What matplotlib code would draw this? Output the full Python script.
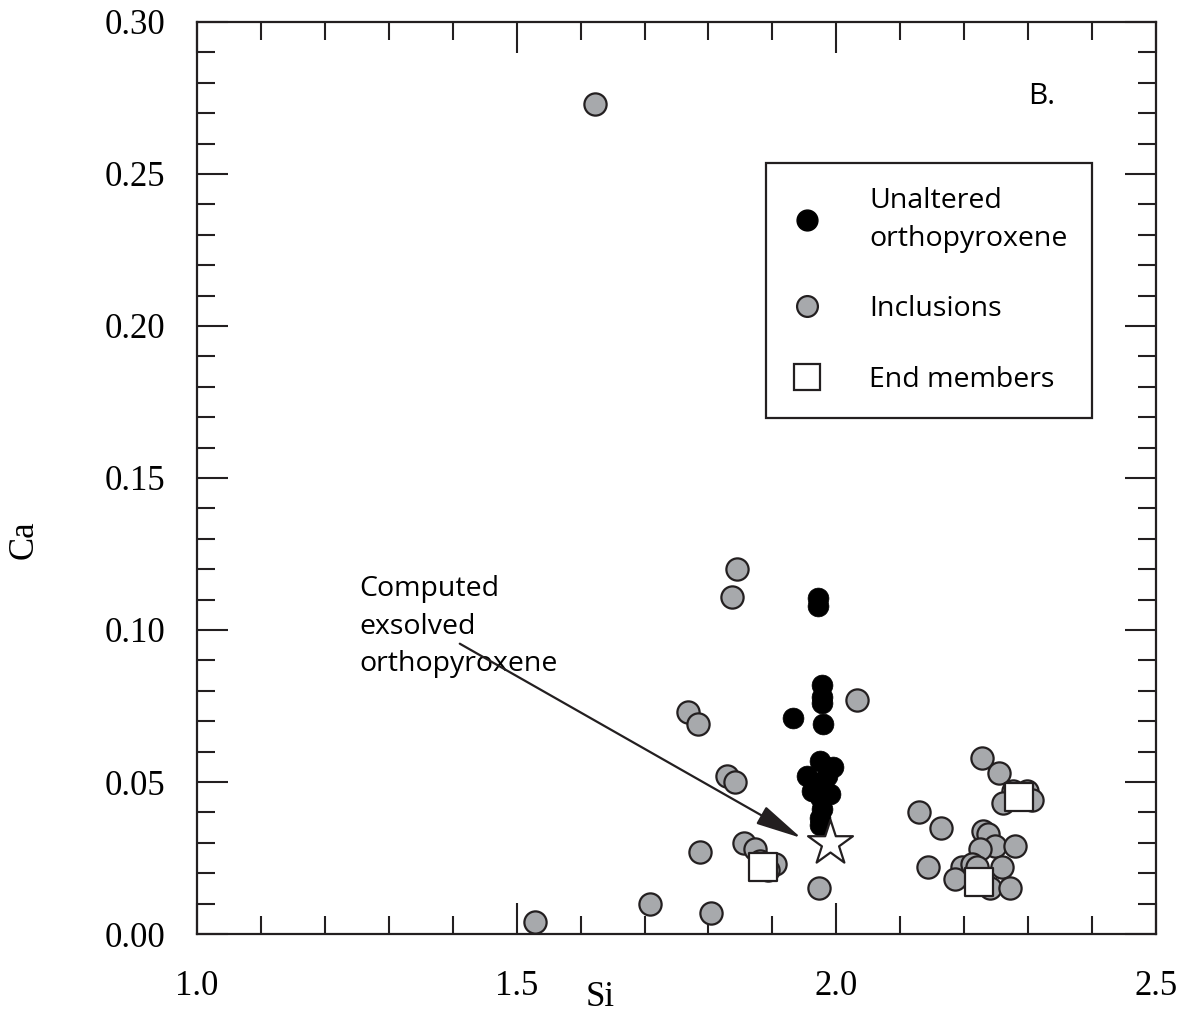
import numpy as np
import matplotlib.pyplot as plt
from matplotlib.lines import Line2D
from matplotlib.ticker import MultipleLocator

# Unaltered orthopyroxene (black)
unalt_si = [1.971, 1.971, 1.978, 1.978, 1.978, 1.932, 1.979, 1.975, 1.995, 1.954,
            1.978, 1.990, 1.975, 1.978, 1.975, 1.975, 1.962, 1.985]
unalt_ca = [0.1105, 0.108, 0.082, 0.078, 0.076, 0.071, 0.069, 0.057, 0.055, 0.052,
            0.050, 0.046, 0.045, 0.041, 0.038, 0.036, 0.047, 0.052]

# Inclusions (grey)
incl_si = [1.623, 1.529, 1.709, 1.804, 1.787, 1.768, 1.784, 1.845, 1.837, 1.829,
           1.842, 1.856, 1.873, 1.881, 1.904, 1.893, 2.032, 1.973,
           2.228, 2.255, 2.276, 2.298, 2.261, 2.306, 2.129, 2.164, 2.229, 2.237,
           2.248, 2.225, 2.280, 2.259, 2.143, 2.197, 2.212, 2.186, 2.220, 2.240, 2.272]
incl_ca = [0.273, 0.004, 0.010, 0.007, 0.027, 0.073, 0.069, 0.120, 0.111, 0.052,
           0.050, 0.030, 0.028, 0.024, 0.023, 0.021, 0.077, 0.015,
           0.058, 0.053, 0.047, 0.047, 0.043, 0.044, 0.040, 0.035, 0.034, 0.033,
           0.029, 0.028, 0.029, 0.022, 0.022, 0.022, 0.023, 0.018, 0.022, 0.015, 0.015]

# End members (open squares)
end_si = [1.886, 2.223, 2.286]
end_ca = [0.022, 0.017, 0.045]

# Computed exsolved orthopyroxene (star)
star_si = [1.990]
star_ca = [0.030]

grey = '#a7a9ac'
edge = '#231f20'
sans = 'Open Sans'
serif = 'Liberation Serif'

fig = plt.figure(figsize=(11.8, 10.13), dpi=100)
ax = fig.add_axes([197 / 1180, 79 / 1013, 959 / 1180, 912 / 1013])

ax.scatter(incl_si, incl_ca, s=16 ** 2, c=grey, edgecolors=edge, linewidths=1.6, zorder=3)
ax.scatter(unalt_si, unalt_ca, s=15 ** 2, c='black', edgecolors='black', linewidths=0.5, zorder=4)
ax.scatter(end_si, end_ca, s=20 ** 2, marker='s', c='white', edgecolors=edge, linewidths=1.6, zorder=5)
ax.scatter(star_si, star_ca, s=34 ** 2, marker='*', c='white', edgecolors=edge, linewidths=1.6, zorder=6)

ax.annotate('', xy=(1.945, 0.0316), xytext=(1.411, 0.0955),
            arrowprops=dict(arrowstyle='-|>,head_length=1.3,head_width=0.28', color=edge,
                            lw=1.6, mutation_scale=22, shrinkA=0, shrinkB=0), zorder=7)
ax.text(1.254, 0.118, 'Computed\nexsolved\northopyroxene', fontsize=20.5, family=sans,
        va='top', ha='left', linespacing=1.45)
ax.text(2.30, 0.2755, 'B.', fontsize=21.5, family=sans, va='center', ha='left')

ax.set_xlim(1.0, 2.5)
ax.set_ylim(0.0, 0.30)
ax.xaxis.set_major_locator(MultipleLocator(0.5))
ax.xaxis.set_minor_locator(MultipleLocator(0.1))
ax.yaxis.set_major_locator(MultipleLocator(0.05))
ax.yaxis.set_minor_locator(MultipleLocator(0.01))
ax.xaxis.set_major_formatter(plt.FormatStrFormatter('%.1f'))
ax.yaxis.set_major_formatter(plt.FormatStrFormatter('%.2f'))
ax.tick_params(which='both', direction='in', top=True, right=True, width=1.5, color=edge)
ax.tick_params(which='major', length=22)
ax.tick_params(which='minor', length=13)
ax.tick_params(axis='x', which='major', pad=26)
ax.tick_params(axis='y', which='major', pad=23)
for lab in ax.get_xticklabels() + ax.get_yticklabels():
    lab.set_family(serif)
    lab.set_fontsize(25)
for sp in ax.spines.values():
    sp.set_linewidth(1.6)
    sp.set_color(edge)

fig.text(600 / 1180, 1 - 997 / 1013, 'Si', fontsize=25, family=serif, ha='center', va='center')
fig.text(24 / 1180, 1 - 540 / 1013, 'Ca', fontsize=25, family=serif, ha='center', va='center',
         rotation=90)

handles = [
    Line2D([], [], ls='none', marker='o', ms=15, mfc='black', mec='black'),
    Line2D([], [], ls='none', marker='o', ms=15, mfc=grey, mec=edge, mew=1.6),
    Line2D([], [], ls='none', marker='s', ms=19, mfc='white', mec=edge, mew=1.6),
]
leg = ax.legend(handles, ['Unaltered\northopyroxene', 'Inclusions', 'End members'],
                loc='upper left', bbox_to_anchor=(766 / 1180, 1 - 163 / 1013),
                bbox_transform=fig.transFigure, prop={'family': sans, 'size': 20.5},
                frameon=True, fancybox=False, edgecolor=edge, framealpha=1,
                handlelength=1.2, handletextpad=1.58, labelspacing=1.5,
                borderpad=0.85, borderaxespad=0)
leg.get_frame().set_linewidth(1.6)
leg.get_texts()[0].set_linespacing(1.45)

fig.savefig('out.png', dpi=100)
